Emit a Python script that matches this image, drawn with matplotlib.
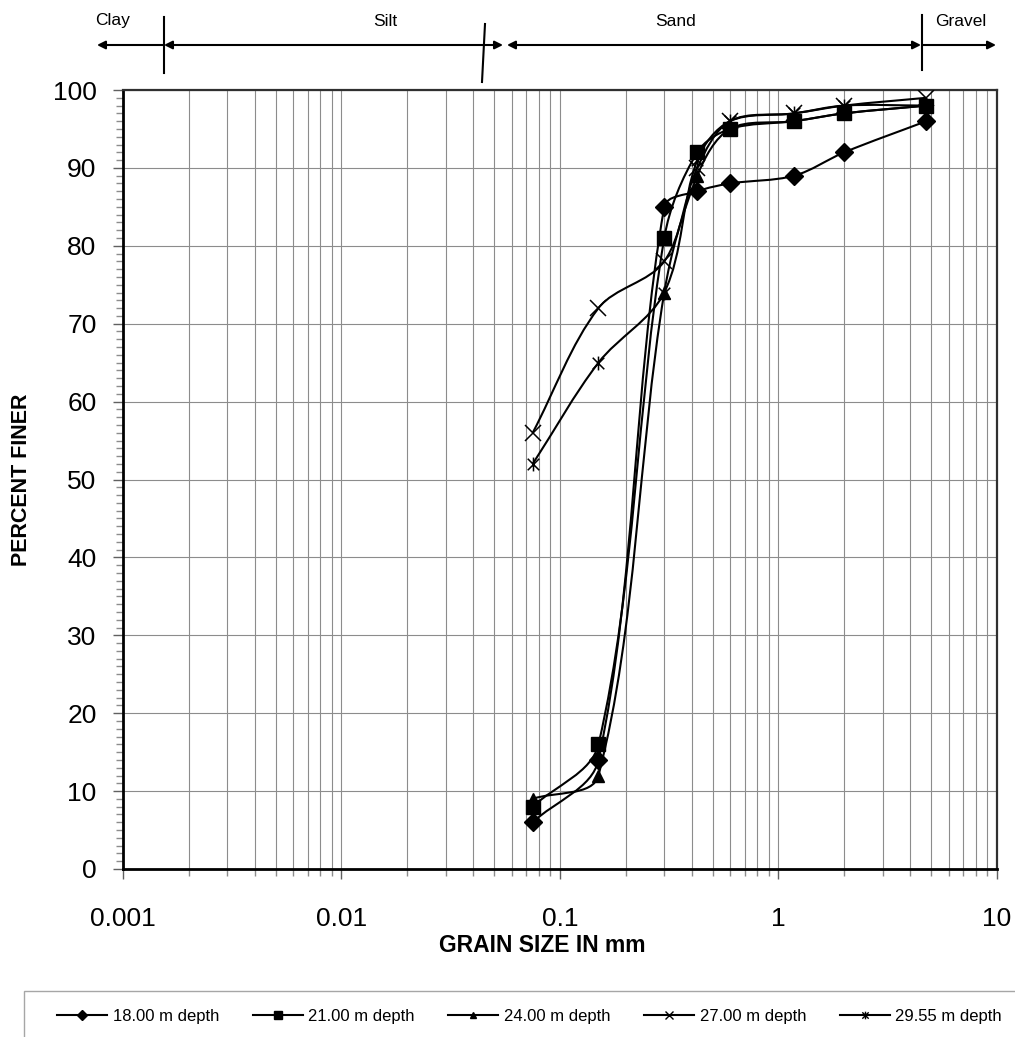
import numpy as np
import matplotlib
matplotlib.use('Agg')
import matplotlib.pyplot as plt
import matplotlib.patches as mpatches
from matplotlib.lines import Line2D
from matplotlib.path import Path
from matplotlib.ticker import MultipleLocator, LogLocator, FixedLocator, FixedFormatter, NullFormatter

plt.rcParams['font.family'] = ['Liberation Sans', 'DejaVu Sans']

# sieve sizes (mm) and percent finer for each boring depth
sieve = [0.075, 0.15, 0.3, 0.425, 0.6, 1.18, 2.0, 4.75]
d18 = [6, 14, 85, 87, 88, 89, 92, 96]
d21 = [8, 16, 81, 92, 95, 96, 97, 98]
d24 = [9, 12, 74, 89, 95, 96, 97, 98]
d27 = [56, 72, 78, 90, 96, 97, 98, 99]
d2955 = [52, 65, 74, 91, 96, 97, 98, 98]

labels = ['18.00 m depth', '21.00 m depth', '24.00 m depth', '27.00 m depth', '29.55 m depth']
series = [d18, d21, d24, d27, d2955]

xticks = [0.001, 0.01, 0.1, 1, 10]
xtick_labels = ['0.001', '0.01', '0.1', '1', '10']

# excel style "star" marker: x plus vertical bar
star = Path([(-1, -1), (1, 1), (-1, 1), (1, -1), (0, -1.2), (0, 1.2)],
            [Path.MOVETO, Path.LINETO, Path.MOVETO, Path.LINETO, Path.MOVETO, Path.LINETO])
markers = ['D', 's', '^', 'x', star]
msizes = [9, 10, 9, 11, 10]

W, H = 1015, 1037
PX_DEC = 218.5   # pixels per decade on x
PX_PCT = 7.79    # pixels per percent on y


def smooth_path(xs, ys):
    # excel-like smoothed line: bezier with tangents weighted by chord length
    pts = np.column_stack([np.log10(xs) * PX_DEC, np.asarray(ys, dtype=float) * PX_PCT])
    n = len(pts)
    d = np.hypot(*np.diff(pts, axis=0).T)
    verts = [pts[0]]
    codes = [Path.MOVETO]
    for i in range(n - 1):
        p0 = pts[max(i - 1, 0)]
        p1 = pts[i]
        p2 = pts[i + 1]
        p3 = pts[min(i + 2, n - 1)]
        dprev = d[i - 1] if i > 0 else 0.0
        dnext = d[i + 1] if i < n - 2 else 0.0
        c1 = p1 + (p2 - p0) / 3.0 * d[i] / (dprev + d[i])
        c2 = p2 - (p3 - p1) / 3.0 * d[i] / (d[i] + dnext)
        verts += [c1, c2, p2]
        codes += [Path.CURVE4] * 3
    verts = np.array(verts)
    verts[:, 0] = 10 ** (verts[:, 0] / PX_DEC)
    verts[:, 1] = verts[:, 1] / PX_PCT
    return Path(verts, codes)


fig = plt.figure(figsize=(W / 100, H / 100), dpi=100)
ax = fig.add_axes([123 / W, 1 - 869 / H, (997 - 123) / W, (869 - 90) / H])

ax.set_xscale('log')
ax.set_xlim(0.001, 10)
ax.set_ylim(0, 100)

for ys, m, ms in zip(series, markers, msizes):
    ax.add_patch(mpatches.PathPatch(smooth_path(sieve, ys), facecolor='none',
                                    edgecolor='black', lw=1.5, zorder=3))
    if m == 'x' or m is star:
        ax.plot(sieve, ys, ls='none', marker=m, ms=ms, mec='black', mfc='none', mew=1.1, zorder=4)
    else:
        ax.plot(sieve, ys, ls='none', marker=m, ms=ms, color='black', zorder=4)

ax.xaxis.set_major_locator(FixedLocator(xticks))
ax.xaxis.set_major_formatter(FixedFormatter(xtick_labels))
ax.xaxis.set_minor_locator(LogLocator(base=10, subs=np.arange(2, 10), numticks=20))
ax.xaxis.set_minor_formatter(NullFormatter())
ax.yaxis.set_major_locator(MultipleLocator(10))
ax.yaxis.set_minor_locator(MultipleLocator(1))

ax.grid(which='both', axis='x', color='#8c8c8c', lw=0.8)
ax.grid(which='major', axis='y', color='#8c8c8c', lw=0.8)
ax.set_axisbelow(True)

ax.tick_params(axis='both', which='major', direction='out', length=7, width=1, color='#606060', labelsize=19)
ax.tick_params(axis='both', which='minor', direction='out', length=5, width=1, color='#8c8c8c')
ax.tick_params(axis='x', which='major', pad=20)
ax.tick_params(axis='y', which='major', pad=12)

for s in ['left', 'bottom']:
    ax.spines[s].set_linewidth(2)
    ax.spines[s].set_color('black')
for s in ['top', 'right']:
    ax.spines[s].set_linewidth(1.6)
    ax.spines[s].set_color('#303030')

fig.text(22 / W, 1 - 480 / H, 'PERCENT FINER', rotation=90, fontsize=15.5,
         fontweight='bold', ha='center', va='center')
fig.text(542 / W, 1 - 945 / H, 'GRAIN SIZE IN mm', fontsize=16.5,
         fontweight='bold', ha='center', va='center')


# soil classification banner above the plot (figure pixel coords)
def fp(px, py):
    return (px / W, 1 - py / H)


def arrow(x1, x2, style):
    ax.annotate('', xy=fp(x2, 45), xytext=fp(x1, 45), xycoords='figure fraction',
                textcoords='figure fraction', annotation_clip=False,
                arrowprops=dict(arrowstyle=style, color='black', lw=1.5,
                                mutation_scale=12, shrinkA=0, shrinkB=0))


arrow(164, 97, '-|>')
arrow(164, 503, '<|-|>')
arrow(507, 921, '<|-|>')
arrow(922, 996, '-|>')

for (xa, ya, xb, yb) in [(164, 17, 164, 73), (485, 24, 482, 82), (922, 15, 922, 70)]:
    p1 = fp(xa, ya)
    p2 = fp(xb, yb)
    fig.add_artist(Line2D([p1[0], p2[0]], [p1[1], p2[1]], transform=fig.transFigure,
                          color='black', lw=1.5))

for txt, px in [('Clay', 113), ('Silt', 385), ('Sand', 676), ('Gravel', 961)]:
    fig.text(*fp(px, 21), txt, fontsize=12.5, ha='center', va='center')

# legend with box running off the page
fig.add_artist(mpatches.Rectangle(fp(24, 1045), (W + 10 - 24) / W, (1045 - 991) / H,
                                  transform=fig.transFigure, fill=False,
                                  edgecolor='#a6a6a6', lw=1))
handles = [Line2D([], [], color='black', lw=1.5, marker=m, ms=ms * 0.55,
                  mfc='none' if (m == 'x' or m is star) else 'black', mec='black', mew=1)
           for m, ms in zip(markers, msizes)]
fig.legend(handles, labels, loc='center left', bbox_to_anchor=fp(57, 1016),
           bbox_transform=fig.transFigure, ncol=5, frameon=False, fontsize=12,
           handlelength=3.0, handletextpad=0.35, columnspacing=2.0,
           borderaxespad=0, borderpad=0)

fig.savefig('out.png', dpi=100)
